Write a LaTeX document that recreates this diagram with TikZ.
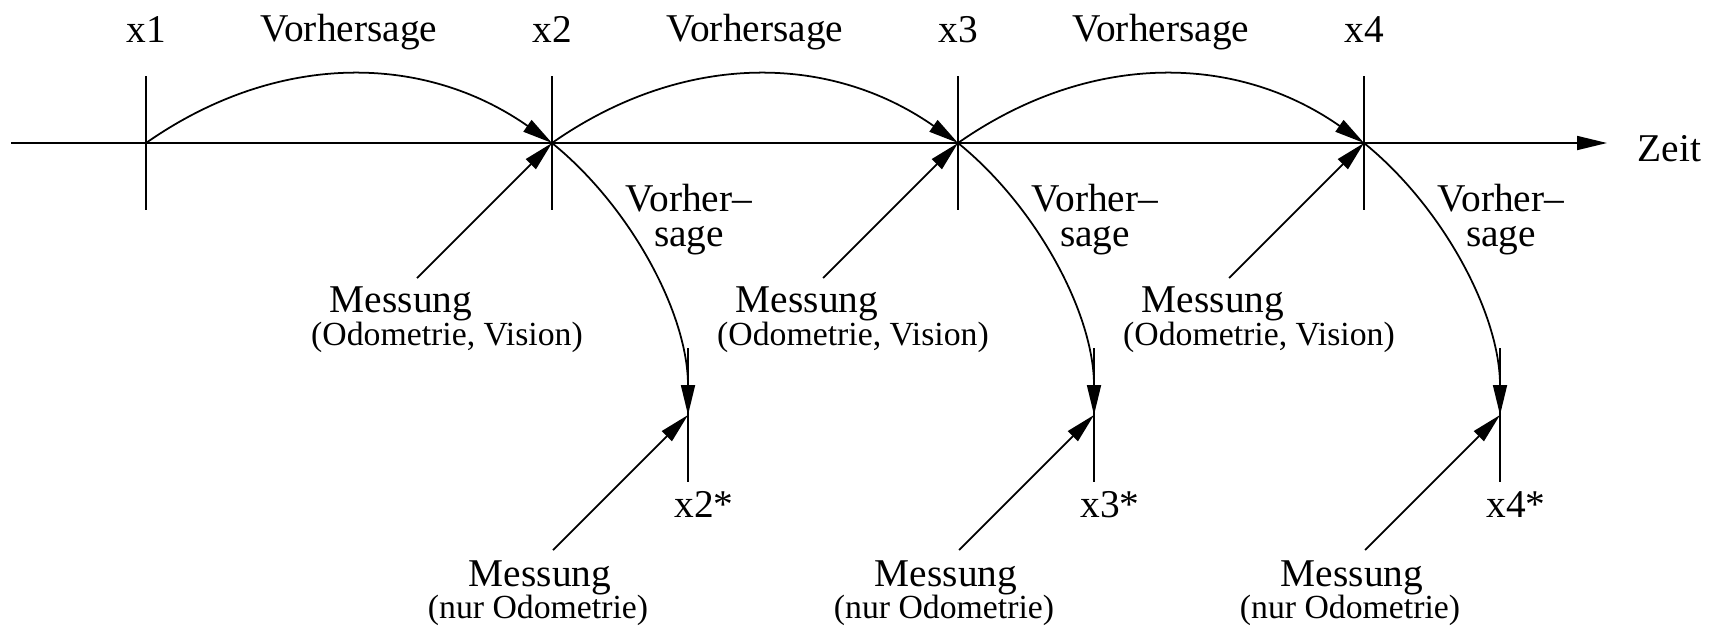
\documentclass[tikz,border=0pt]{standalone}
\usepackage{fontspec}
\setmainfont{Liberation Serif}
\usetikzlibrary{arrows.meta}
\tikzset{
    lab/.style={inner sep=0pt, align=center, font=\fontsize{11.2}{9.96}\selectfont},
    sublab/.style={inner sep=0pt, font=\fontsize{9.6}{11}\selectfont},
    arrow/.style={-{Triangle[length=3mm, width=1.4mm]}}
}

\begin{document}
\begin{tikzpicture}[line width=0.5pt]
\useasboundingbox (0,0) rectangle (17.24,-6.26);
% Zeitachse
\coordinate (tstart) at (0.11,-1.43);
\coordinate (t1) at (1.46,-1.43);
\coordinate (t2) at (5.52,-1.43);
\coordinate (t3) at (9.58,-1.43);
\coordinate (t4) at (13.64,-1.43);
\coordinate (tend) at (16.07,-1.43);
\draw[arrow] (tstart) -- (tend);
\node[lab, anchor=base west] (zeit) at (16.37,-1.61) {Zeit};
\draw ([yshift=6.7mm]t1) -- ([yshift=-6.7mm]t1);
\draw ([yshift=6.7mm]t2) -- ([yshift=-6.7mm]t2);
\draw ([yshift=6.7mm]t3) -- ([yshift=-6.7mm]t3);
\draw ([yshift=6.7mm]t4) -- ([yshift=-6.7mm]t4);
\node[lab, anchor=base] (x1) at (1.46,-0.42) {x1};
\node[lab, anchor=base] (x2) at (5.52,-0.42) {x2};
\node[lab, anchor=base] (x3) at (9.58,-0.42) {x3};
\node[lab, anchor=base] (x4) at (13.64,-0.42) {x4};
\node[lab, anchor=base] (vh1) at (3.49,-0.41) {Vorhersage};
\node[lab, anchor=base] (vh2) at (7.55,-0.41) {Vorhersage};
\node[lab, anchor=base] (vh3) at (11.61,-0.41) {Vorhersage};
\draw[arrow] (t1) to[bend left=35] (t2);
\draw[arrow] (t2) to[bend left=35] (t3);
\draw[arrow] (t3) to[bend left=35] (t4);
% Zwischenzustaende
\coordinate (s2) at (6.88,-4.15);
\coordinate (s3) at (10.94,-4.15);
\coordinate (s4) at (15.00,-4.15);
\draw ([yshift=6.7mm]s2) -- ([yshift=-6.7mm]s2);
\draw ([yshift=6.7mm]s3) -- ([yshift=-6.7mm]s3);
\draw ([yshift=6.7mm]s4) -- ([yshift=-6.7mm]s4);
\node[lab, anchor=base] (xs2) at (7.04,-5.17) {x2*};
\node[lab, anchor=base] (xs3) at (11.10,-5.17) {x3*};
\node[lab, anchor=base] (xs4) at (15.16,-5.17) {x4*};
\node[lab, anchor=north] (vs2) at (6.89,-1.83) {Vorher--\\sage};
\node[lab, anchor=north] (vs3) at (10.95,-1.83) {Vorher--\\sage};
\node[lab, anchor=north] (vs4) at (15.01,-1.83) {Vorher--\\sage};
\draw[arrow] (t2) to[out=-39, in=90, looseness=0.85] (s2);
\draw[arrow] (t3) to[out=-39, in=90, looseness=0.85] (s3);
\draw[arrow] (t4) to[out=-39, in=90, looseness=0.85] (s4);
% Messungen mit Odometrie und Vision
\node[lab, anchor=base] (mv2) at (4.01,-3.12) {Messung};
\node[lab, anchor=base] (mv3) at (8.07,-3.12) {Messung};
\node[lab, anchor=base] (mv4) at (12.13,-3.12) {Messung};
\node[sublab, anchor=base] (ov2) at (4.47,-3.45) {(Odometrie, Vision)};
\node[sublab, anchor=base] (ov3) at (8.53,-3.45) {(Odometrie, Vision)};
\node[sublab, anchor=base] (ov4) at (12.59,-3.45) {(Odometrie, Vision)};
\coordinate (mv2a) at (4.17,-2.78);
\coordinate (mv3a) at (8.23,-2.78);
\coordinate (mv4a) at (12.29,-2.78);
\draw[arrow] (mv2a) -- (t2);
\draw[arrow] (mv3a) -- (t3);
\draw[arrow] (mv4a) -- (t4);
% Messungen nur Odometrie
\node[lab, anchor=base] (mo2) at (5.40,-5.86) {Messung};
\node[lab, anchor=base] (mo3) at (9.46,-5.86) {Messung};
\node[lab, anchor=base] (mo4) at (13.52,-5.86) {Messung};
\node[sublab, anchor=base] (oo2) at (5.38,-6.18) {(nur Odometrie)};
\node[sublab, anchor=base] (oo3) at (9.44,-6.18) {(nur Odometrie)};
\node[sublab, anchor=base] (oo4) at (13.50,-6.18) {(nur Odometrie)};
\coordinate (mo2a) at (5.53,-5.50);
\coordinate (mo3a) at (9.59,-5.50);
\coordinate (mo4a) at (13.65,-5.50);
\draw[arrow] (mo2a) -- (s2);
\draw[arrow] (mo3a) -- (s3);
\draw[arrow] (mo4a) -- (s4);
\end{tikzpicture}
\end{document}
